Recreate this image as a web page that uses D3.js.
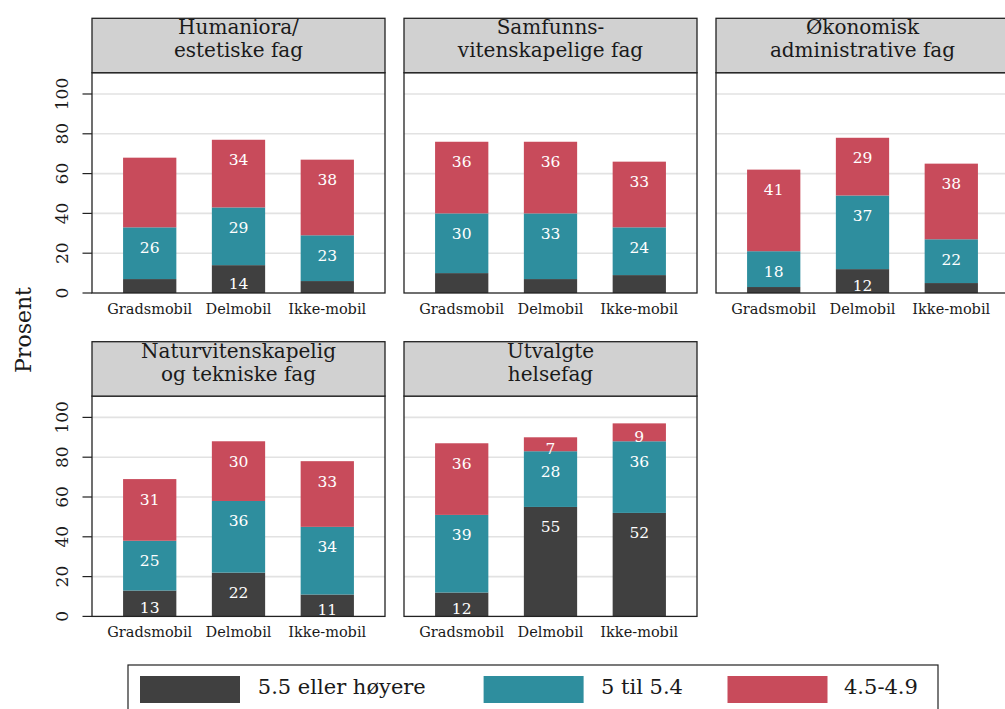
<!DOCTYPE html>
<html><head><meta charset="utf-8">
<script src="https://cdn.jsdelivr.net/npm/d3@7"></script>
<style>body{margin:0;background:#fff}svg{display:block;font-family:"DejaVu Serif",serif}</style>
</head><body><svg id="c" width="1005" height="709"></svg>
<script>
const facets = [["Humaniora/","estetiske fag"],["Samfunns-","vitenskapelige fag"],["Økonomisk","administrative fag"],["Naturvitenskapelig","og tekniske fag"],["Utvalgte","helsefag"]];
const categories = ["Gradsmobil","Delmobil","Ikke-mobil"];
const seriesNames = ["5.5 eller høyere","5 til 5.4","4.5-4.9"];
const high = [[7,14,6],[10,7,9],[3,12,5],[13,22,11],[12,55,52]];
const mid  = [[26,29,23],[30,33,24],[18,37,22],[25,36,34],[39,28,36]];
const low  = [[35,34,38],[36,36,33],[41,29,38],[31,30,33],[36,7,9]];
// labels not printed in the original: [facet, category, series]
const hiddenLabels = [[0,0,0],[0,0,2],[0,2,0],[1,0,0],[1,1,0],[1,2,0],[2,0,0],[2,2,0]];
const yTicks = [0,20,40,60,80,100];
const colors = ["#404040","#2e8e9e","#c84b5b"];

const svg = d3.select("#c");
const colLeft = [92,404,716], panelW = 293;
const rowTop = [18.3,341.7], stripH = 54.4, plotH = 220.3;
const ink = "#1a1a1a";
const series = [high, mid, low];

facets.forEach((title, f) => {
  const r = f < 3 ? 0 : 1, c = f % 3;
  const x0 = colLeft[c], sTop = rowTop[r], pTop = sTop + stripH, pBot = pTop + plotH;
  const y = d3.scaleLinear().domain([0,110.7]).range([pBot,pTop]);
  const x = d3.scaleBand().domain(categories).range([x0,x0+panelW]).paddingInner(0.4).paddingOuter(0.35);
  const g = svg.append("g");
  const cid = "clip"+f;
  g.append("clipPath").attr("id",cid).append("rect").attr("x",x0).attr("y",pTop).attr("width",panelW).attr("height",plotH);
  g.selectAll(".grid").data(yTicks.filter(d=>d>0)).join("line")
    .attr("x1",x0).attr("x2",x0+panelW).attr("y1",d=>y(d)).attr("y2",d=>y(d))
    .attr("stroke","#e2e2e2").attr("stroke-width",1.6);
  const stacks = categories.map((cat,i)=>{
    let acc=0; return series.map((s,k)=>{const v=s[f][i]; const seg={cat,i,k,v,b:acc,t:acc+v}; acc+=v; return seg;});
  }).flat();
  const cg = g.append("g").attr("clip-path",`url(#${cid})`);
  cg.selectAll("rect.bar").data(stacks).join("rect")
    .attr("x",d=>x(d.cat)).attr("width",x.bandwidth())
    .attr("y",d=>y(d.t)).attr("height",d=>y(d.b)-y(d.t))
    .attr("fill",d=>colors[d.k]);
  const shown = stacks.filter(d=>!hiddenLabels.some(h=>h[0]===f&&h[1]===d.i&&h[2]===d.k));
  cg.selectAll("text.lab").data(shown).join("text")
    .attr("x",d=>x(d.cat)+x.bandwidth()/2)
    .attr("y",d=>y(d.t - Math.min(10, d.v/2+2)))
    .attr("dy","0.36em").attr("text-anchor","middle")
    .attr("fill","#fff").attr("font-size",15.5).text(d=>d.v);
  g.append("rect").attr("x",x0).attr("y",pTop).attr("width",panelW).attr("height",plotH)
    .attr("fill","none").attr("stroke","#222").attr("stroke-width",1.3);
  g.append("rect").attr("x",x0).attr("y",sTop).attr("width",panelW).attr("height",stripH)
    .attr("fill","#d1d1d1").attr("stroke","#222").attr("stroke-width",1.3);
  g.append("text").attr("x",x0+panelW/2).attr("y",sTop+16).attr("text-anchor","middle")
    .attr("font-size",20).attr("fill",ink).text(title[0]);
  g.append("text").attr("x",x0+panelW/2).attr("y",sTop+39).attr("text-anchor","middle")
    .attr("font-size",20).attr("fill",ink).text(title[1]);
  g.selectAll("text.xl").data(categories).join("text")
    .attr("x",d=>x(d)+x.bandwidth()/2).attr("y",pBot+20.5).attr("text-anchor","middle")
    .attr("font-size",14.5).attr("fill",ink).text(d=>d);
  if (c===0) {
    g.selectAll("line.tk").data(yTicks).join("line")
      .attr("x1",x0-9.5).attr("x2",x0).attr("y1",d=>y(d)).attr("y2",d=>y(d))
      .attr("stroke","#222").attr("stroke-width",1.2);
    g.selectAll("text.yl").data(yTicks).join("text")
      .attr("transform",d=>`translate(68,${y(d)}) rotate(-90)`)
      .attr("text-anchor","middle").attr("font-size",17).attr("fill",ink).text(d=>d);
  }
});

svg.append("text").attr("transform","translate(31,330) rotate(-90)").attr("text-anchor","middle")
  .attr("font-size",22).attr("fill",ink).text("Prosent");

svg.append("rect").attr("x",128).attr("y",665).attr("width",810).attr("height",60)
  .attr("fill","#fff").attr("stroke","#222").attr("stroke-width",1.2);
const keyX = [140,483.6,727.5], textX = [257.8,601,844];
seriesNames.forEach((n,k)=>{
  svg.append("rect").attr("x",keyX[k]).attr("y",676).attr("width",100).attr("height",27).attr("fill",colors[k]);
  svg.append("text").attr("x",textX[k]).attr("y",693.5).attr("font-size",21).attr("fill",ink).text(n);
});
</script></body></html>
